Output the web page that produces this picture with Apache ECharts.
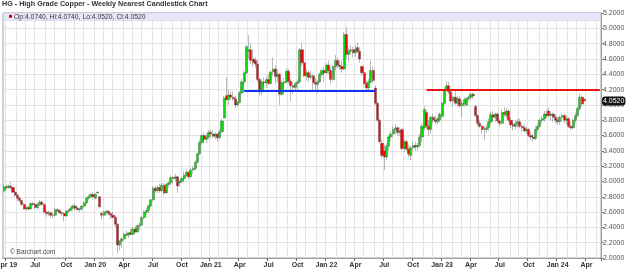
<!DOCTYPE html>
<html><head><meta charset="utf-8">
<script src="https://cdn.jsdelivr.net/npm/echarts@6/dist/echarts.min.js"></script>
<style>html,body{margin:0;padding:0;background:#fff}#c{width:627px;height:273px}</style>
</head><body><div id="c"></div>
<script>
const titleText = 'HG - High Grade Copper - Weekly Nearest Candlestick Chart';
const infoText = 'Op:4.0740, Hi:4.0740, Lo:4.0520, Cl:4.0520';
const firstWeekUTC = Date.UTC(2019, 2, 25);
const weekCount = 269;
const monthNames = ['Jan','Feb','Mar','Apr','May','Jun','Jul','Aug','Sep','Oct','Nov','Dec'];
const yTicks = {min: 2.0, max: 5.2, step: 0.2};
const lastPrice = 4.052;
const blueLevel = 4.185, blueFrom = 108, blueTo = 167;
const redLevel = 4.20, redFrom = 190;

const opens = [
2.88,2.93,2.92,2.94,2.92,2.86,2.82,2.78,2.75,2.70,
2.64,2.66,2.64,2.71,2.70,2.66,2.70,2.73,2.70,2.60,
2.58,2.59,2.56,2.56,2.63,2.62,2.59,2.58,2.55,2.61,
2.62,2.65,2.68,2.65,2.63,2.64,2.68,2.72,2.78,2.80,
2.83,2.78,2.85,2.80,2.58,2.56,2.60,2.61,2.58,2.56,
2.53,2.44,2.17,2.22,2.25,2.31,2.30,2.33,2.31,2.38,
2.34,2.42,2.43,2.53,2.60,2.62,2.68,2.76,2.91,2.88,
2.92,2.88,2.95,2.85,2.96,2.98,3.05,3.04,3.06,2.98,
3.00,3.04,3.08,3.12,3.06,3.15,3.17,3.25,3.36,3.51,
3.60,3.55,3.58,3.64,3.62,3.59,3.62,3.57,3.65,3.83,
4.12,4.07,4.13,4.10,4.08,4.00,4.03,4.16,4.30,4.42,
4.70,4.72,4.60,4.58,4.53,4.33,4.17,4.30,4.29,4.33,
4.28,4.43,4.47,4.37,4.40,4.14,4.29,4.30,4.44,4.31,
4.25,4.23,4.28,4.30,4.72,4.55,4.38,4.42,4.36,4.38,
4.29,4.27,4.30,4.40,4.45,4.42,4.52,4.45,4.33,4.50,
4.58,4.52,4.50,4.47,4.92,4.66,4.70,4.72,4.68,4.75,
4.70,4.50,4.42,4.28,4.22,4.30,4.45,4.22,4.02,3.80,
3.50,3.40,3.32,3.46,3.58,3.62,3.68,3.70,3.64,3.68,
3.43,3.52,3.42,3.34,3.44,3.47,3.45,3.47,3.58,3.70,
3.90,3.72,3.68,3.84,3.80,3.78,3.80,3.85,4.02,4.20,
4.25,4.17,4.05,4.10,4.02,4.08,3.99,4.02,4.00,4.08,
4.10,4.14,3.98,3.86,3.76,3.72,3.68,3.68,3.70,3.78,
3.87,3.84,3.88,3.79,3.76,3.90,3.86,3.92,3.80,3.74,
3.72,3.76,3.78,3.72,3.70,3.66,3.68,3.60,3.58,3.56,
3.68,3.72,3.80,3.82,3.88,3.92,3.86,3.88,3.84,3.80,
3.78,3.84,3.86,3.80,3.82,3.72,3.70,3.80,3.86,3.95,
4.10,4.074];
const highs = [
2.95,2.96,2.96,2.99,2.93,2.88,2.84,2.80,2.76,2.72,
2.68,2.68,2.73,2.74,2.72,2.72,2.76,2.75,2.72,2.62,
2.62,2.61,2.60,2.66,2.66,2.64,2.61,2.60,2.63,2.64,
2.67,2.70,2.71,2.67,2.66,2.70,2.74,2.80,2.83,2.85,
2.86,2.85,2.87,2.81,2.61,2.62,2.63,2.63,2.60,2.60,
2.55,2.46,2.24,2.27,2.33,2.36,2.34,2.38,2.40,2.42,
2.44,2.46,2.55,2.62,2.65,2.70,2.77,2.94,2.94,2.95,
2.97,2.98,2.98,2.98,3.00,3.08,3.07,3.10,3.07,3.02,
3.06,3.13,3.16,3.13,3.18,3.20,3.28,3.38,3.55,3.62,
3.64,3.63,3.67,3.68,3.67,3.64,3.63,3.68,3.82,4.12,
4.36,4.20,4.17,4.18,4.12,4.06,4.18,4.34,4.45,4.78,
4.91,4.80,4.72,4.62,4.58,4.35,4.34,4.36,4.37,4.40,
4.45,4.62,4.52,4.46,4.42,4.32,4.35,4.48,4.47,4.34,
4.30,4.30,4.33,4.74,4.81,4.58,4.47,4.45,4.45,4.40,
4.35,4.33,4.42,4.47,4.50,4.55,4.58,4.50,4.52,4.65,
4.62,4.58,4.58,4.95,5.02,4.74,4.78,4.76,4.78,4.82,
4.75,4.52,4.45,4.32,4.34,4.58,4.50,4.25,4.04,3.82,
3.55,3.48,3.50,3.60,3.66,3.72,3.75,3.72,3.71,3.70,
3.55,3.54,3.48,3.47,3.52,3.52,3.50,3.62,3.76,3.98,
3.93,3.80,3.86,3.88,3.86,3.84,3.90,4.04,4.23,4.31,
4.30,4.20,4.12,4.18,4.12,4.12,4.06,4.10,4.10,4.12,
4.16,4.16,4.00,3.88,3.80,3.74,3.72,3.74,3.82,3.90,
3.92,3.90,3.90,3.82,3.94,3.97,3.96,3.94,3.84,3.78,
3.80,3.82,3.82,3.76,3.75,3.72,3.70,3.64,3.62,3.72,
3.76,3.82,3.86,3.92,3.94,3.96,3.92,3.90,3.88,3.84,
3.86,3.89,3.88,3.86,3.84,3.78,3.82,3.90,3.98,4.15,
4.12,4.074];
const lows = [
2.86,2.90,2.90,2.90,2.85,2.80,2.75,2.73,2.68,2.63,
2.62,2.62,2.63,2.68,2.64,2.64,2.68,2.68,2.58,2.54,
2.55,2.53,2.52,2.55,2.60,2.58,2.55,2.48,2.54,2.59,
2.61,2.62,2.63,2.62,2.60,2.62,2.66,2.70,2.76,2.79,
2.78,2.77,2.84,2.65,2.51,2.54,2.57,2.56,2.50,2.52,
2.40,2.06,2.10,2.13,2.23,2.28,2.26,2.29,2.30,2.33,
2.33,2.36,2.42,2.50,2.56,2.58,2.66,2.74,2.85,2.85,
2.85,2.86,2.82,2.84,2.92,2.95,2.98,3.00,2.85,2.93,
2.98,3.02,3.06,3.03,3.05,3.10,3.15,3.24,3.35,3.48,
3.50,3.50,3.55,3.56,3.56,3.55,3.52,3.55,3.63,3.82,
4.05,4.00,4.06,4.05,3.96,3.98,4.02,4.14,4.26,4.40,
4.60,4.54,4.50,4.48,4.30,4.12,4.13,4.24,4.22,4.26,
4.26,4.38,4.28,4.30,4.00,4.12,4.24,4.28,4.28,4.05,
4.14,4.18,4.20,4.28,4.50,4.36,4.32,4.30,4.34,4.20,
4.18,4.15,4.29,4.36,4.30,4.40,4.40,4.28,4.31,4.45,
4.48,4.45,4.42,4.46,4.60,4.55,4.65,4.62,4.63,4.68,
4.55,4.38,4.24,4.17,4.18,4.28,4.28,4.00,3.78,3.50,
3.30,3.15,3.28,3.40,3.52,3.58,3.62,3.60,3.60,3.40,
3.38,3.40,3.32,3.28,3.40,3.40,3.40,3.44,3.52,3.66,
3.68,3.60,3.62,3.76,3.75,3.74,3.77,3.82,4.00,4.18,
4.14,4.02,3.98,4.00,3.98,3.96,3.84,3.98,3.98,4.04,
4.06,4.08,3.84,3.72,3.70,3.62,3.54,3.64,3.66,3.74,
3.80,3.78,3.76,3.72,3.74,3.84,3.82,3.78,3.70,3.66,
3.68,3.70,3.70,3.64,3.64,3.62,3.58,3.54,3.52,3.54,
3.64,3.70,3.76,3.78,3.82,3.84,3.80,3.78,3.76,3.74,
3.74,3.78,3.76,3.74,3.70,3.67,3.68,3.76,3.84,3.92,
3.98,4.052];
const closes = [
2.93,2.92,2.94,2.92,2.86,2.82,2.78,2.75,2.70,2.64,
2.66,2.64,2.71,2.70,2.66,2.70,2.73,2.70,2.60,2.58,
2.59,2.56,2.56,2.63,2.62,2.59,2.58,2.55,2.61,2.62,
2.65,2.68,2.65,2.63,2.64,2.68,2.72,2.78,2.80,2.83,
2.80,2.83,2.86,2.67,2.56,2.60,2.61,2.58,2.56,2.53,
2.44,2.17,2.22,2.25,2.31,2.30,2.33,2.31,2.38,2.34,
2.42,2.43,2.53,2.60,2.62,2.68,2.76,2.91,2.88,2.92,
2.88,2.95,2.85,2.96,2.98,3.05,3.04,3.06,2.94,3.00,
3.04,3.08,3.12,3.06,3.15,3.17,3.25,3.36,3.51,3.60,
3.55,3.58,3.64,3.62,3.59,3.62,3.57,3.65,3.79,4.09,
4.07,4.13,4.10,4.08,4.00,4.03,4.16,4.30,4.42,4.76,
4.72,4.58,4.55,4.53,4.33,4.17,4.30,4.29,4.33,4.28,
4.43,4.47,4.37,4.40,4.14,4.29,4.30,4.44,4.31,4.25,
4.23,4.28,4.30,4.72,4.55,4.38,4.42,4.36,4.38,4.29,
4.27,4.30,4.40,4.45,4.42,4.52,4.45,4.33,4.50,4.58,
4.52,4.50,4.47,4.92,4.66,4.70,4.72,4.68,4.73,4.70,
4.60,4.42,4.28,4.22,4.30,4.45,4.32,4.02,3.80,3.52,
3.34,3.32,3.46,3.58,3.62,3.68,3.70,3.64,3.66,3.43,
3.52,3.42,3.36,3.44,3.47,3.45,3.47,3.58,3.72,3.94,
3.72,3.68,3.84,3.80,3.78,3.82,3.88,4.02,4.20,4.25,
4.17,4.05,4.10,4.02,4.08,3.99,4.02,4.07,4.08,4.10,
4.14,4.12,3.86,3.76,3.72,3.68,3.68,3.70,3.78,3.87,
3.84,3.88,3.79,3.76,3.90,3.88,3.92,3.80,3.74,3.72,
3.76,3.78,3.72,3.70,3.66,3.68,3.60,3.58,3.56,3.68,
3.72,3.80,3.82,3.88,3.86,3.86,3.88,3.84,3.80,3.78,
3.84,3.86,3.80,3.82,3.72,3.70,3.80,3.86,3.95,4.10,
4.01,4.052];

const weeks = [];
for (let i = 0; i < weekCount; i++) weeks.push(new Date(firstWeekUTC + i * 7 * 86400000).toISOString().slice(0, 10));
const monthOf = s => +s.slice(5, 7) - 1;
const isMonthStart = i => i > 0 && monthOf(weeks[i]) !== monthOf(weeks[i - 1]);
const isQuarterStart = i => isMonthStart(i) && monthOf(weeks[i]) % 3 === 0;
const candles = opens.map((o, i) => [o, closes[i], lows[i], highs[i]]);

const chart = echarts.init(document.getElementById('c'), null, {renderer: 'canvas'});
const FONT = '"Liberation Sans", Arial, sans-serif';
chart.setOption({
  animation: false,
  backgroundColor: '#fff',
  title: {text: titleText, left: 2, top: 1, padding: 0, textStyle: {fontSize: 7.2, fontWeight: 'bold', color: '#333', fontFamily: FONT}},
  grid: {left: 3, right: 26, top: 13, bottom: 15, show: true, borderColor: '#a0a0a0', borderWidth: 1,
         containLabel: false, outerBoundsMode: 'none'},
  xAxis: {
    type: 'category', data: weeks, boundaryGap: true,
    axisLine: {show: true, lineStyle: {color: '#a0a0a0'}},
    axisTick: {show: true, length: 3, interval: (i) => isQuarterStart(i), lineStyle: {color: '#666'}},
    axisLabel: {interval: (i) => isQuarterStart(i), margin: 4, fontSize: 7, fontWeight: 'bold', color: '#333', fontFamily: FONT,
      hideOverlap: false,
      formatter: (v, i) => { const m = monthOf(v); const name = monthNames[m]; return (m === 0 || i === 1) ? name + ' ' + v.slice(2, 4) : name; }},
    splitLine: {show: true, interval: (i) => isMonthStart(i), lineStyle: {color: '#e4e4e4', width: 1}}
  },
  yAxis: {
    type: 'value', position: 'right', min: yTicks.min, max: yTicks.max, interval: yTicks.step, scale: true,
    axisLine: {show: true, lineStyle: {color: '#a0a0a0'}},
    axisTick: {show: true, length: 3, lineStyle: {color: '#888'}},
    axisLabel: {margin: 2, fontSize: 7, color: '#555', fontFamily: FONT, formatter: v => v.toFixed(4)},
    splitLine: {show: true, lineStyle: {color: '#e4e4e4', width: 1}},
    axisPointer: {show: true, type: 'line', value: lastPrice, status: 'show', snap: false, triggerTooltip: false,
      lineStyle: {opacity: 0},
      label: {show: true, backgroundColor: '#111', color: '#fff', fontSize: 7, fontFamily: FONT, padding: [1, 1], margin: 1,
        formatter: p => Number(p.value).toFixed(4)}}
  },
  series: [{
    type: 'candlestick', data: candles, barWidth: 2.6,
    itemStyle: {color: '#0cd80c', color0: '#ea0a0a', borderColor: '#3a3a3a', borderColor0: '#3a3a3a', borderWidth: 0.35},
    markLine: {
      silent: true, symbol: ['none', 'none'], label: {show: false}, animation: false,
      data: [
        [{coord: [weeks[blueFrom], blueLevel], lineStyle: {color: '#1133ff', width: 2, type: 'solid'}}, {coord: [weeks[blueTo], blueLevel]}],
        [{coord: [weeks[redFrom], redLevel], lineStyle: {color: '#ee1111', width: 2, type: 'solid'}}, {coord: [weeks[weekCount - 1], redLevel]}]
      ]
    }
  }],
  graphic: [
    {type: 'rect', z: 100, shape: {x: 3.5, y: 13, width: 597, height: 7.5}, style: {fill: '#e6e6fb', stroke: '#c8c8e0', lineWidth: 0.5}},
    {type: 'rect', z: 101, shape: {x: 9, y: 14.8, width: 3, height: 3}, style: {fill: '#dd0000'}},
    {type: 'text', z: 101, x: 14, y: 16.8, style: {text: infoText, fontSize: 6.8, fill: '#333', fontFamily: FONT, textVerticalAlign: 'middle'}},
    {type: 'text', z: 101, x: 10, y: 252, style: {text: '\u00a9 Barchart.com', fontSize: 6.5, fill: '#444', fontFamily: FONT, textVerticalAlign: 'middle'}}
  ]
});
</script></body></html>
